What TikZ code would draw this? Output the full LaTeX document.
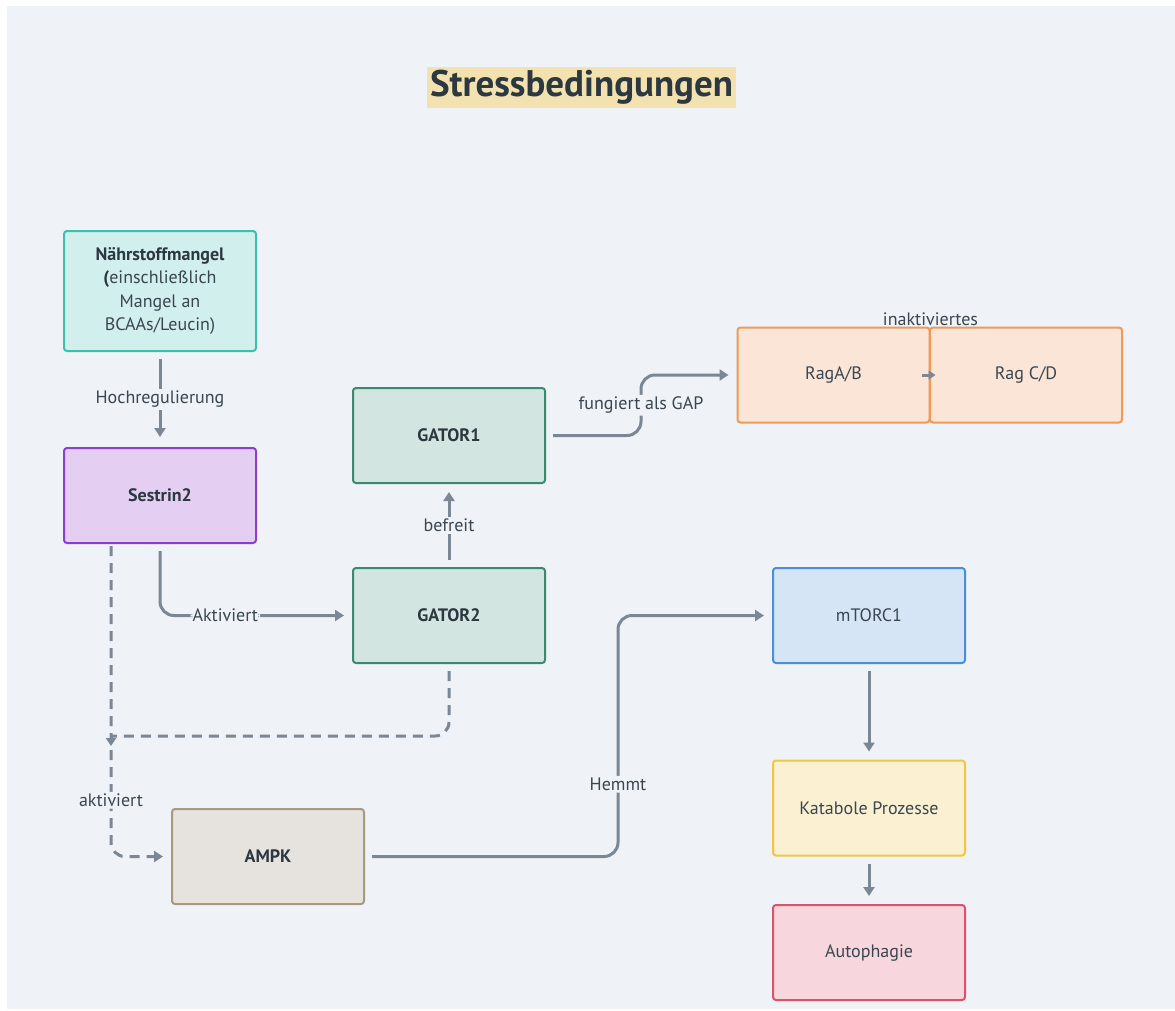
\documentclass[tikz,border=0pt]{standalone}
\usepackage{fontspec}
\setmainfont{PT Sans}
\usetikzlibrary{arrows.meta}

\newlength{\du}
\setlength{\du}{1pt}

\definecolor{panelbg}{HTML}{EFF2F6}
\definecolor{titlebg}{HTML}{F3E2B0}
\definecolor{txtcol}{HTML}{3A4650}
\definecolor{darktxt}{HTML}{2C3840}
\definecolor{arrowcol}{HTML}{7B8794}
\definecolor{nmfill}{HTML}{D1EFEC}
\definecolor{nmline}{HTML}{3DBFB0}
\definecolor{sesfill}{HTML}{E4CFF3}
\definecolor{sesline}{HTML}{8A3FD1}
\definecolor{gatfill}{HTML}{D3E5E1}
\definecolor{gatline}{HTML}{3A8A6E}
\definecolor{ragfill}{HTML}{FAE5D7}
\definecolor{ragline}{HTML}{EE9A58}
\definecolor{mtfill}{HTML}{D5E5F5}
\definecolor{mtline}{HTML}{4A90D9}
\definecolor{kpfill}{HTML}{FCF0D2}
\definecolor{kpline}{HTML}{F0C840}
\definecolor{aufill}{HTML}{F7D7DD}
\definecolor{auline}{HTML}{D9546A}
\definecolor{amfill}{HTML}{E6E3DE}
\definecolor{amline}{HTML}{A89A80}

\tikzset{
  box/.style={draw, line width=2\du, rounded corners=3\du, minimum width=192\du,
    minimum height=95\du, align=center, text=txtcol,
    font=\fontsize{18}{23.5}\selectfont},
  boldbox/.style={box, text=darktxt, font=\fontsize{18}{22}\selectfont\bfseries},
  conn/.style={draw=arrowcol, line width=3\du, -{Triangle[length=9pt,width=11pt]},
    shorten >=8\du, shorten <=7\du},
  dconn/.style={conn, dash pattern=on 10\du off 7\du},
  lbl/.style={fill=panelbg, text=txtcol, inner sep=2\du,
    font=\fontsize{18}{20}\selectfont},
}

\begin{document}
\begin{tikzpicture}
\pgftransformxscale{1.000000}
\pgftransformyscale{-1.000000}
\useasboundingbox (0\du,0\du) rectangle (1175\du,1010\du);
\fill[white] (0\du,0\du) rectangle (1175\du,1010\du);
\fill[panelbg] (7\du,6\du) rectangle (1175\du,1009\du);
% title
\node[fill=titlebg, text=darktxt, inner xsep=1.5\du, minimum width=309\du, minimum height=41\du,
  font=\fontsize{37}{40}\selectfont\bfseries] (title) at (581.5\du,87\du) {Stressbedingungen};
% boxes
\node[box, fill=nmfill, draw=nmline, minimum height=120\du] (nm) at (160\du,291\du)
  {\textbf{\color{darktxt}Nährstoffmangel}\\\textbf{\color{darktxt}(}einschließlich\\Mangel an\\BCAAs/Leucin)};
\node[boldbox, fill=sesfill, draw=sesline] (s2) at (160\du,495.5\du) {Sestrin2};
\node[boldbox, fill=gatfill, draw=gatline] (g1) at (449\du,435.5\du) {GATOR1};
\node[boldbox, fill=gatfill, draw=gatline] (g2) at (449\du,615.5\du) {GATOR2};
\node[box, fill=ragfill, draw=ragline] (rab) at (833.5\du,375\du) {RagA/B};
\node[box, fill=ragfill, draw=ragline] (rcd) at (1026\du,375\du) {Rag C/D};
\node[box, fill=mtfill, draw=mtline] (mt) at (869\du,615.5\du) {mTORC1};
\node[box, fill=kpfill, draw=kpline] (kp) at (869\du,808\du) {Katabole Prozesse};
\node[box, fill=aufill, draw=auline] (au) at (869\du,952.5\du) {Autophagie};
\node[boldbox, fill=amfill, draw=amline] (ampk) at (268\du,856.5\du) {AMPK};
\node[lbl, fill=none, anchor=south, inner sep=1\du] (inakt) at (rab.north east) {inaktiviertes};
% connectors
\draw[conn, shorten >=10\du] (nm) -- node[lbl]{Hochregulierung} (s2);
\draw[conn, rounded corners=14\du] (s2.south) |- node[lbl, pos=0.67]{Aktiviert} (g2.west);
\draw[conn] (g2.north) -- node[lbl]{befreit} (g1.south);
\draw[conn, rounded corners=14\du] (g1.east) -- ++(95\du,0) |- node[lbl, pos=0.25]{fungiert als GAP} (rab.west);
\draw[conn, shorten <=0pt, shorten >=0pt, -{Triangle[length=7pt,width=9pt]}] ([xshift=-9\du]rab.east) -- ([xshift=5\du]rab.east);
\draw[conn, rounded corners=14\du] (ampk.east) -- ++(253\du,0) |- node[lbl, pos=0.15]{Hemmt} (mt.west);
\draw[conn] (mt) -- (kp);
\draw[conn] (kp) -- (au);
% dashed
\coordinate (jn) at (111\du,736\du);
\draw[dconn, shorten <=2\du, rounded corners=14\du] ([xshift=-49\du]s2.south) |- node[lbl, pos=0.41]{aktiviert} (ampk.west);
\draw[dconn, -, shorten >=0pt, rounded corners=14\du] (g2.south) |- (jn);
\draw[conn, shorten <=0pt, shorten >=0pt, -{Triangle[length=8pt,width=10pt]}] (jn) -- ++(0,10\du);
\end{tikzpicture}
\end{document}
